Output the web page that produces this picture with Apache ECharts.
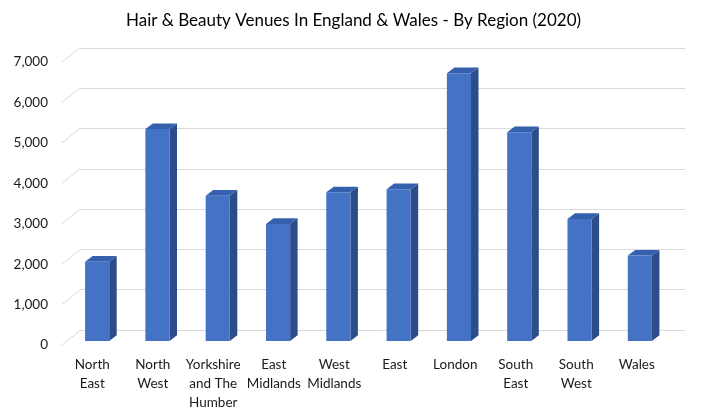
<!DOCTYPE html>
<html><head><meta charset="utf-8">
<script src="https://cdn.jsdelivr.net/npm/echarts@6/dist/echarts.min.js"></script>
<style>html,body{margin:0;padding:0;background:#fff}#c{width:707px;height:413px}</style>
</head><body><div id="c"></div>
<script>
const categories = ['North\nEast','North\nWest','Yorkshire\nand The\nHumber','East\nMidlands','West\nMidlands','East','London','South\nEast','South\nWest','Wales'];
const venues = [1970, 5260, 3605, 2905, 3690, 3765, 6645, 5180, 3030, 2120];
const yTicks = [0, 1000, 2000, 3000, 4000, 5000, 6000, 7000];
const titleText = 'Hair & Beauty Venues In England & Wales - By Region (2020)';

const FONT = 'Lato, "Open Sans", sans-serif';
const DX = 7.5, DY = -5.7;   // bar depth offset
const WX = 18, WY = -14.5;   // wall depth offset

const chart = echarts.init(document.getElementById('c'), null, {renderer:'canvas'});
chart.setOption({
  animation:false,
  title:{text:titleText,left:'center',top:7,textStyle:{fontFamily:FONT,fontSize:17,fontWeight:'normal',color:'#000'}},
  grid:[
    {left:80,right:22,top:48,bottom:83},
    {left:67,right:37,top:59,bottom:72},
    {left:62,right:40,top:62,bottom:68}
  ],
  xAxis:[
    {gridIndex:0,type:'category',data:categories,show:false},
    {gridIndex:1,type:'category',data:categories,show:false},
    {gridIndex:2,type:'category',data:categories,axisLine:{show:false},axisTick:{show:false},
     axisLabel:{interval:0,color:'#1a1a1a',fontFamily:FONT,fontSize:13.5,lineHeight:19,margin:10}}
  ],
  yAxis:[
    {gridIndex:0,type:'value',min:0,max:7000,interval:1000,axisLabel:{show:false},axisLine:{show:false},axisTick:{show:false},
     splitLine:{lineStyle:{color:'#d9d9d9',width:1}}},
    {gridIndex:1,type:'value',min:0,max:7000,interval:1000,show:false,splitLine:{show:false}},
    {gridIndex:2,type:'value',min:0,max:7000,interval:1000,axisLine:{show:false},axisTick:{show:false},splitLine:{show:false},
     axisLabel:{color:'#1a1a1a',fontFamily:FONT,fontSize:13.5,margin:14,formatter:v=>v.toLocaleString('en-US')}}
  ],
  series:[
    {type:'custom',xAxisIndex:2,yAxisIndex:2,data:yTicks,silent:true,z:1,
     renderItem:function(params,api){
       const p=api.coord([0,api.value(0)]);
       const bw=api.size([1,0])[0];
       const x=p[0]-bw/2;
       return {type:'line',shape:{x1:x,y1:p[1],x2:x+WX,y2:p[1]+WY},style:{stroke:'#d9d9d9',lineWidth:1}};
     },
     encode:{y:0}},
    {type:'custom',xAxisIndex:1,yAxisIndex:1,data:venues.map((v,i)=>[i,v]),z:5,
     renderItem:function(params,api){
       const top=api.coord([api.value(0),api.value(1)]);
       const bot=api.coord([api.value(0),0]);
       const w=api.size([1,0])[0]*0.4;
       const x0=top[0]-w/2,x1=top[0]+w/2,yt=top[1],yb=bot[1];
       return {type:'group',children:[
         {type:'polygon',shape:{points:[[x1,yt],[x1+DX,yt+DY],[x1+DX,yb+DY],[x1,yb]]},style:{fill:'#2c4d8a'}},
         {type:'polygon',shape:{points:[[x0,yt],[x0+DX,yt+DY],[x1+DX,yt+DY],[x1,yt]]},style:{fill:'#3560ad'}},
         {type:'rect',shape:{x:x0,y:yt,width:w,height:yb-yt},style:{fill:'#4472c4'}}
       ]};
     },
     encode:{x:0,y:1}}
  ]
});
</script></body></html>
